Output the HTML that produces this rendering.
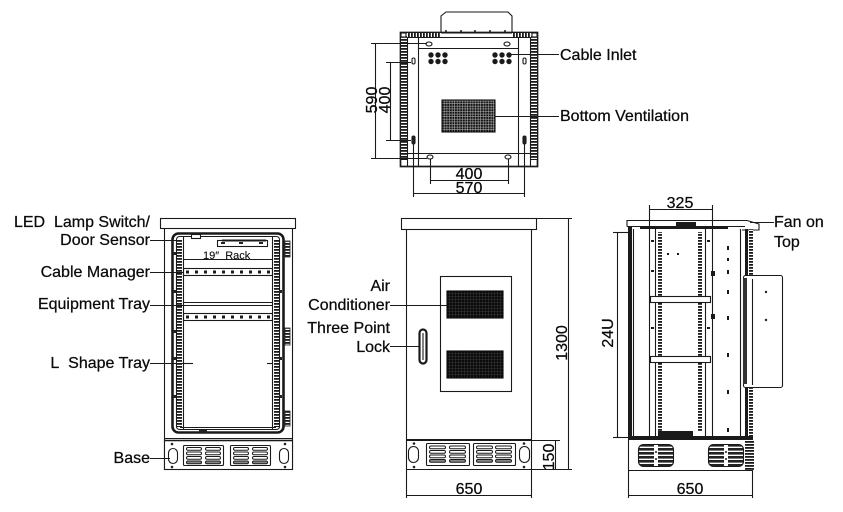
<!DOCTYPE html>
<html><head><meta charset="utf-8"><style>
html,body{margin:0;padding:0;background:#fff;}
svg{display:block;}
text{font-family:"Liberation Sans",Arial,sans-serif;font-size:16px;fill:#0a0a0a;stroke:#0a0a0a;stroke-width:0.25;white-space:pre;}
</style></head><body>
<svg width="843" height="512" viewBox="0 0 843 512" xmlns="http://www.w3.org/2000/svg" xml:space="preserve">
<defs>
<pattern id="hat" width="4" height="3" patternUnits="userSpaceOnUse"><rect width="4" height="3" fill="#fff"/><rect width="4" height="1.8" fill="#1a1a1a"/></pattern>
<pattern id="hatv" width="3" height="4" patternUnits="userSpaceOnUse"><rect width="3" height="4" fill="#fff"/><rect width="1.8" height="4" fill="#1a1a1a"/></pattern>
<pattern id="grid" width="2.6" height="2.6" patternUnits="userSpaceOnUse"><rect width="2.6" height="2.6" fill="#aaa"/><rect width="2" height="2" fill="#111"/></pattern>
<pattern id="grid2" width="3" height="3" patternUnits="userSpaceOnUse"><rect width="3" height="3" fill="#333"/><rect width="2.4" height="2.4" fill="#0a0a0a"/></pattern>
<pattern id="fan" width="4" height="4" patternUnits="userSpaceOnUse"><rect width="4" height="4" fill="#fff"/><rect width="4" height="2.6" fill="#222"/></pattern>
</defs>

<!-- ================= TOP VIEW ================= -->
<g fill="none" stroke="#1a1a1a" stroke-width="1.1">
  <polygon points="441,33 441,16 446,12 508,12 512,16 512,33" fill="#fff"/>
  <g fill="#222" stroke="none">
    <circle cx="446" cy="31" r="1"/><circle cx="461" cy="31" r="1"/><circle cx="475" cy="31" r="1"/><circle cx="490" cy="31" r="1"/><circle cx="505" cy="31" r="1"/>
  </g>
  <rect x="400.5" y="32.5" width="137" height="134" stroke-width="1.7"/>
  <rect x="401" y="35" width="6" height="125" fill="url(#hat)" stroke="none"/>
  <rect x="531" y="35" width="6" height="125" fill="url(#hat)" stroke="none"/>
  <rect x="407" y="33" width="34" height="4" fill="url(#hatv)" stroke="none"/>
  <rect x="512" y="33" width="19" height="4" fill="url(#hatv)" stroke="none"/>
  <rect x="401" y="33" width="5" height="4" fill="#fff"/>
  <rect x="532" y="33" width="5" height="4" fill="#fff"/>
  <line x1="407.5" y1="37" x2="407.5" y2="166"/>
  <line x1="530.5" y1="37" x2="530.5" y2="166"/>
  <line x1="418.5" y1="37" x2="418.5" y2="166"/>
  <line x1="518.5" y1="37" x2="518.5" y2="166"/>
  <line x1="407" y1="37.5" x2="530" y2="37.5"/>
  <line x1="418" y1="48.5" x2="518" y2="48.5"/>
  <line x1="407" y1="153.5" x2="530" y2="153.5"/>
  <ellipse cx="429" cy="44" rx="3" ry="2"/>
  <ellipse cx="507" cy="44" rx="3" ry="2"/>
  <ellipse cx="430" cy="157" rx="3" ry="2"/>
  <ellipse cx="508" cy="157" rx="3" ry="2"/>
  <rect x="412" y="58" width="3" height="6" rx="1.5"/>
  <rect x="523" y="58" width="3" height="6" rx="1.5"/>
  <rect x="412" y="136" width="3" height="8" rx="1.5" fill="#222"/>
  <rect x="523" y="136" width="3" height="8" rx="1.5" fill="#222"/>
  <g fill="#1a1a1a" stroke="none">
    <circle cx="431" cy="55" r="2.7"/><circle cx="438" cy="55" r="2.7"/><circle cx="445" cy="55" r="2.7"/>
    <circle cx="431" cy="61.5" r="2.7"/><circle cx="438" cy="61.5" r="2.7"/><circle cx="445" cy="61.5" r="2.7"/>
    <circle cx="495" cy="55" r="2.7"/><circle cx="502" cy="55" r="2.7"/><circle cx="509" cy="55" r="2.7"/>
    <circle cx="495" cy="61.5" r="2.7"/><circle cx="502" cy="61.5" r="2.7"/><circle cx="509" cy="61.5" r="2.7"/>
  </g>
  <rect x="442" y="100" width="53" height="32" fill="url(#grid)" stroke="#111"/>
  <line x1="510" y1="54.5" x2="559" y2="54.5"/>
  <line x1="495" y1="116.5" x2="559" y2="116.5"/>
  <line x1="375.5" y1="43" x2="375.5" y2="158"/>
  <line x1="371" y1="43.5" x2="427" y2="43.5"/>
  <line x1="371" y1="158.5" x2="427" y2="158.5"/>
  <line x1="390.5" y1="62" x2="390.5" y2="140"/>
  <line x1="386" y1="62.5" x2="411" y2="62.5"/>
  <line x1="386" y1="140.5" x2="411" y2="140.5"/>
  <line x1="430" y1="180.5" x2="508" y2="180.5"/>
  <line x1="430.5" y1="159" x2="430.5" y2="184"/>
  <line x1="508.5" y1="159" x2="508.5" y2="184"/>
  <line x1="413" y1="193.5" x2="524" y2="193.5"/>
  <line x1="413.5" y1="144" x2="413.5" y2="197"/>
  <line x1="524.5" y1="144" x2="524.5" y2="197"/>
</g>
<text x="560" y="60">Cable Inlet</text>
<text x="560" y="121">Bottom Ventilation</text>
<text transform="translate(377,100) rotate(-90)" text-anchor="middle">590</text>
<text transform="translate(390,100) rotate(-90)" text-anchor="middle">400</text>
<text x="469" y="179" text-anchor="middle">400</text>
<text x="469" y="193" text-anchor="middle">570</text>

<!-- ================= LEFT VIEW ================= -->
<g fill="none" stroke="#1a1a1a" stroke-width="1.1">
  <rect x="160.5" y="218.5" width="135" height="10" fill="#fff"/>
  <line x1="164.5" y1="229" x2="164.5" y2="470"/>
  <line x1="292.5" y1="229" x2="292.5" y2="470"/>
  <line x1="164" y1="438.5" x2="293" y2="438.5"/>
  <rect x="172.5" y="233.5" width="111" height="199" rx="6" stroke-width="2.6"/>
  <rect x="176.5" y="236.5" width="103" height="193" rx="3"/>
  <rect x="177" y="239" width="5" height="188" fill="url(#hat)" stroke="none"/>
  <rect x="274" y="239" width="5" height="188" fill="url(#hat)" stroke="none"/>
  <line x1="183.5" y1="237" x2="183.5" y2="429"/>
  <line x1="272.5" y1="237" x2="272.5" y2="429"/>
  <line x1="180" y1="427.5" x2="276" y2="427.5"/>
  <rect x="199" y="430" width="8" height="3" fill="#222" stroke="none"/>
  <g fill="#222" stroke="none">
    <rect x="173" y="252" width="3" height="3"/><rect x="173" y="290" width="3" height="3"/><rect x="173" y="330" width="3" height="3"/><rect x="173" y="357" width="3" height="3"/><rect x="173" y="395" width="3" height="3"/>
    <rect x="279" y="290" width="3" height="3"/><rect x="279" y="357" width="3" height="3"/><rect x="279" y="395" width="3" height="3"/>
  </g>
  <rect x="191.5" y="234.5" width="9" height="4" fill="#fff"/>
  <rect x="217.5" y="240.5" width="50" height="6"/>
  <line x1="222" y1="240.5" x2="266" y2="240.5" stroke-width="2"/>
  <g fill="#222" stroke="none"><rect x="221" y="242" width="4" height="2"/><rect x="239" y="242" width="4" height="2"/><rect x="259" y="242" width="4" height="2"/></g>
  <line x1="183" y1="259.5" x2="272" y2="259.5"/>
  <rect x="183.5" y="268.5" width="89" height="7"/>
  <rect x="183.5" y="313.5" width="89" height="7"/>
  <g fill="#1a1a1a" stroke="none">
    <rect x="186" y="270.5" width="3" height="3"/><rect x="195" y="270.5" width="3" height="3"/><rect x="204" y="270.5" width="3" height="3"/><rect x="213" y="270.5" width="3" height="3"/><rect x="222" y="270.5" width="3" height="3"/><rect x="231" y="270.5" width="3" height="3"/><rect x="240" y="270.5" width="3" height="3"/><rect x="249" y="270.5" width="3" height="3"/><rect x="258" y="270.5" width="3" height="3"/><rect x="267" y="270.5" width="3" height="3"/>
    <rect x="186" y="315.5" width="3" height="3"/><rect x="195" y="315.5" width="3" height="3"/><rect x="204" y="315.5" width="3" height="3"/><rect x="213" y="315.5" width="3" height="3"/><rect x="222" y="315.5" width="3" height="3"/><rect x="231" y="315.5" width="3" height="3"/><rect x="240" y="315.5" width="3" height="3"/><rect x="249" y="315.5" width="3" height="3"/><rect x="258" y="315.5" width="3" height="3"/><rect x="267" y="315.5" width="3" height="3"/>
  </g>
  <line x1="183" y1="302.5" x2="272" y2="302.5"/>
  <line x1="183" y1="305.5" x2="272" y2="305.5"/>
  <line x1="183" y1="363.5" x2="193" y2="363.5"/>
  <line x1="267" y1="363.5" x2="273" y2="363.5"/>
  <rect x="285" y="241" width="5" height="16" fill="url(#hat)" stroke="#222" stroke-width="0.8"/>
  <rect x="285" y="328" width="5" height="17" fill="url(#hat)" stroke="#222" stroke-width="0.8"/>
  <rect x="285" y="411" width="5" height="15" fill="url(#hat)" stroke="#222" stroke-width="0.8"/>
  <rect x="164.5" y="440.5" width="128" height="29" fill="#fff"/>
  <line x1="164" y1="440.5" x2="293" y2="440.5" stroke-width="1.6"/>
  <g fill="#222" stroke="none"><circle cx="172" cy="444" r="1.3"/><circle cx="172" cy="467" r="1.3"/><circle cx="285" cy="444" r="1.3"/><circle cx="285" cy="467" r="1.3"/></g>
  <rect x="168.5" y="448.5" width="9" height="15" rx="4.5"/>
  <rect x="279.5" y="448.5" width="9" height="15" rx="4.5"/>
  <rect x="183.5" y="445.5" width="40" height="20" rx="1"/>
  <rect x="230.5" y="445.5" width="40" height="20" rx="1"/>
  <g stroke-width="1">
    <rect x="186.5" y="447.5" width="15" height="2.8" rx="1.4"/><rect x="205.5" y="447.5" width="15" height="2.8" rx="1.4"/>
    <rect x="186.5" y="452" width="15" height="2.8" rx="1.4"/><rect x="205.5" y="452" width="15" height="2.8" rx="1.4"/>
    <rect x="186.5" y="456.5" width="15" height="2.8" rx="1.4"/><rect x="205.5" y="456.5" width="15" height="2.8" rx="1.4"/>
    <rect x="186.5" y="461" width="15" height="2.8" rx="1.4" fill="#888"/><rect x="205.5" y="461" width="15" height="2.8" rx="1.4" fill="#888"/>
    <rect x="233.5" y="447.5" width="15" height="2.8" rx="1.4"/><rect x="252.5" y="447.5" width="15" height="2.8" rx="1.4"/>
    <rect x="233.5" y="452" width="15" height="2.8" rx="1.4"/><rect x="252.5" y="452" width="15" height="2.8" rx="1.4"/>
    <rect x="233.5" y="456.5" width="15" height="2.8" rx="1.4"/><rect x="252.5" y="456.5" width="15" height="2.8" rx="1.4"/>
    <rect x="233.5" y="461" width="15" height="2.8" rx="1.4" fill="#888"/><rect x="252.5" y="461" width="15" height="2.8" rx="1.4" fill="#888"/>
  </g>
  <line x1="150" y1="240.5" x2="176" y2="240.5"/>
  <line x1="150" y1="272.5" x2="184" y2="272.5"/>
  <line x1="150" y1="305.5" x2="184" y2="305.5"/>
  <line x1="150" y1="363.5" x2="193" y2="363.5"/>
  <line x1="150" y1="458.5" x2="170" y2="458.5"/>
</g>
<text x="203" y="259" style="font-size:11px;stroke-width:0.1">19″&#160;&#160;Rack</text>
<text x="150" y="227" text-anchor="end">LED&#160;&#160;Lamp Switch/</text>
<text x="150" y="245" text-anchor="end">Door Sensor</text>
<text x="150" y="277" text-anchor="end">Cable Manager</text>
<text x="150" y="309" text-anchor="end">Equipment Tray</text>
<text x="150" y="368" text-anchor="end">L&#160;&#160;Shape Tray</text>
<text x="150" y="463" text-anchor="end">Base</text>

<!-- ================= FRONT VIEW ================= -->
<g fill="none" stroke="#1a1a1a" stroke-width="1.1">
  <rect x="401.5" y="218.5" width="135" height="11" fill="#fff"/>
  <line x1="406.5" y1="230" x2="406.5" y2="470"/>
  <line x1="531.5" y1="230" x2="531.5" y2="470"/>
  <rect x="440.5" y="276.5" width="71" height="115"/>
  <rect x="447" y="291" width="56" height="27" fill="url(#grid2)" stroke="#0a0a0a"/>
  <rect x="447" y="351" width="56" height="27" fill="url(#grid2)" stroke="#0a0a0a"/>
  <rect x="419.5" y="329.5" width="7" height="34" rx="3.5" stroke-width="2.2"/>
  <line x1="423" y1="333" x2="423" y2="360"/>
  <line x1="406" y1="440" x2="532" y2="440" stroke-width="2"/>
  <line x1="406" y1="469.5" x2="532" y2="469.5"/>
  <g fill="#222" stroke="none"><circle cx="414" cy="443.5" r="1.3"/><circle cx="414" cy="467" r="1.3"/><circle cx="524" cy="443.5" r="1.3"/><circle cx="524" cy="467" r="1.3"/></g>
  <rect x="408.5" y="446.5" width="10" height="16" rx="5"/>
  <rect x="519.5" y="446.5" width="10" height="16" rx="5"/>
  <rect x="426.5" y="443.5" width="43" height="22" rx="1"/>
  <rect x="473.5" y="443.5" width="42" height="22" rx="1"/>
  <g stroke-width="1">
    <rect x="429.5" y="446" width="16" height="2.8" rx="1.4"/><rect x="449.5" y="446" width="16" height="2.8" rx="1.4"/>
    <rect x="429.5" y="450.5" width="16" height="2.8" rx="1.4"/><rect x="449.5" y="450.5" width="16" height="2.8" rx="1.4"/>
    <rect x="429.5" y="455" width="16" height="2.8" rx="1.4"/><rect x="449.5" y="455" width="16" height="2.8" rx="1.4"/>
    <rect x="429.5" y="459.5" width="16" height="2.8" rx="1.4" fill="#888"/><rect x="449.5" y="459.5" width="16" height="2.8" rx="1.4" fill="#888"/>
    <rect x="476.5" y="446" width="16" height="2.8" rx="1.4"/><rect x="495.5" y="446" width="16" height="2.8" rx="1.4"/>
    <rect x="476.5" y="450.5" width="16" height="2.8" rx="1.4"/><rect x="495.5" y="450.5" width="16" height="2.8" rx="1.4"/>
    <rect x="476.5" y="455" width="16" height="2.8" rx="1.4"/><rect x="495.5" y="455" width="16" height="2.8" rx="1.4"/>
    <rect x="476.5" y="459.5" width="16" height="2.8" rx="1.4" fill="#888"/><rect x="495.5" y="459.5" width="16" height="2.8" rx="1.4" fill="#888"/>
  </g>
  <line x1="390" y1="305.5" x2="447" y2="305.5"/>
  <line x1="390" y1="346.5" x2="420" y2="346.5"/>
  <line x1="568.5" y1="218" x2="568.5" y2="470"/>
  <line x1="537" y1="218.5" x2="572" y2="218.5"/>
  <line x1="532" y1="440.5" x2="560" y2="440.5"/>
  <line x1="532" y1="469.5" x2="572" y2="469.5"/>
  <line x1="555.5" y1="441" x2="555.5" y2="469"/>
  <line x1="406" y1="495.5" x2="532" y2="495.5"/>
  <line x1="406.5" y1="470" x2="406.5" y2="498"/>
  <line x1="531.5" y1="470" x2="531.5" y2="498"/>
</g>
<text x="390" y="291" text-anchor="end">Air</text>
<text x="390" y="310" text-anchor="end">Conditioner</text>
<text x="390" y="333" text-anchor="end">Three Point</text>
<text x="390" y="352" text-anchor="end">Lock</text>
<text transform="translate(567,343) rotate(-90)" text-anchor="middle">1300</text>
<text transform="translate(554,457) rotate(-90)" text-anchor="middle">150</text>
<text x="469" y="494" text-anchor="middle">650</text>

<!-- ================= SIDE VIEW ================= -->
<g fill="none" stroke="#1a1a1a" stroke-width="1.1">
  <path d="M627,226.5 V220.5 H747 L759,224 V230 H742 M627,226.5 H745" fill="#fff"/>
  <rect x="640" y="226" width="88" height="3" fill="#1a1a1a" stroke="none"/>
  <rect x="676" y="222" width="20" height="4" fill="#1a1a1a" stroke="none"/>
  <rect x="628" y="227" width="4" height="211" fill="#1a1a1a" stroke="none"/>
  <line x1="633.5" y1="229" x2="633.5" y2="437"/>
  <line x1="649.5" y1="205" x2="649.5" y2="437"/>
  <line x1="712.5" y1="205" x2="712.5" y2="437"/>
  <line x1="655.5" y1="229" x2="655.5" y2="437"/>
  <line x1="705.5" y1="229" x2="705.5" y2="437"/>
  <rect x="658" y="232" width="4" height="200" fill="url(#hat)" stroke="none"/>
  <rect x="698" y="232" width="4" height="200" fill="url(#hat)" stroke="none"/>
  <line x1="740.5" y1="229" x2="740.5" y2="437"/>
  <rect x="745" y="229" width="3" height="209" fill="#1a1a1a" stroke="none"/>
  <rect x="749" y="229" width="4" height="209" fill="url(#hat)" stroke="none"/>
  <g fill="#1a1a1a" stroke="none">
    <rect x="727" y="246" width="2" height="4"/><rect x="727" y="258" width="2" height="3"/><rect x="727" y="270" width="2" height="4"/><rect x="727" y="290" width="2" height="4"/><rect x="727" y="316" width="2" height="4"/><rect x="727" y="353" width="2" height="4"/><rect x="727" y="390" width="2" height="4"/><rect x="727" y="428" width="2" height="4"/>
    <rect x="667" y="253" width="2" height="2"/><rect x="677" y="253" width="2" height="2"/><rect x="711" y="271" width="4" height="5"/><rect x="711" y="314" width="4" height="5"/>
    <rect x="651" y="240" width="3" height="2"/><rect x="651" y="270" width="3" height="2"/><rect x="651" y="327" width="3" height="2"/><rect x="707" y="240" width="3" height="2"/><rect x="707" y="327" width="3" height="2"/>
  </g>
  <rect x="650.5" y="296.5" width="60" height="6" fill="#fff"/>
  <rect x="650.5" y="356.5" width="60" height="6" fill="#fff"/>
  <rect x="743.5" y="275.5" width="39" height="112" rx="2" fill="#fff"/>
  <rect x="743" y="278" width="4" height="106" fill="#333" stroke="none"/>
  <line x1="752.5" y1="279" x2="752.5" y2="385"/>
  <g fill="#222" stroke="none"><circle cx="766" cy="292" r="1.2"/><circle cx="766" cy="320" r="1.2"/></g>
  <rect x="628" y="436" width="125" height="4" fill="#1a1a1a" stroke="none"/>
  <rect x="658" y="431" width="35" height="5" fill="#1a1a1a" stroke="none"/>
  <line x1="628.5" y1="440" x2="628.5" y2="470"/>
  <line x1="628" y1="470.5" x2="753" y2="470.5"/>
  <rect x="745" y="440" width="9" height="30" fill="url(#hat)" stroke="none"/>
  <rect x="638.5" y="444.5" width="35" height="22" rx="5" fill="url(#fan)"/>
  <rect x="708.5" y="444.5" width="35" height="22" rx="5" fill="url(#fan)"/>
  <rect x="654" y="445" width="4" height="21" fill="#fff" stroke="none"/>
  <rect x="724" y="445" width="4" height="21" fill="#fff" stroke="none"/>
  <g fill="#222" stroke="none"><circle cx="656" cy="452" r="1"/><circle cx="656" cy="459" r="1"/><circle cx="726" cy="452" r="1"/><circle cx="726" cy="459" r="1"/></g>
  <line x1="750" y1="222.5" x2="774" y2="222.5"/>
  <line x1="649" y1="209.5" x2="712" y2="209.5"/>
  <line x1="617.5" y1="232" x2="617.5" y2="437"/>
  <line x1="613" y1="232.5" x2="628" y2="232.5"/>
  <line x1="613" y1="437.5" x2="628" y2="437.5"/>
  <line x1="628" y1="495.5" x2="753" y2="495.5"/>
  <line x1="628.5" y1="470" x2="628.5" y2="498"/>
  <line x1="752.5" y1="470" x2="752.5" y2="498"/>
</g>
<text x="680" y="208" text-anchor="middle">325</text>
<text x="774" y="227">Fan on</text>
<text x="774" y="247">Top</text>
<text transform="translate(613,333) rotate(-90)" text-anchor="middle">24U</text>
<text x="690" y="494" text-anchor="middle">650</text>
</svg>
</body></html>
